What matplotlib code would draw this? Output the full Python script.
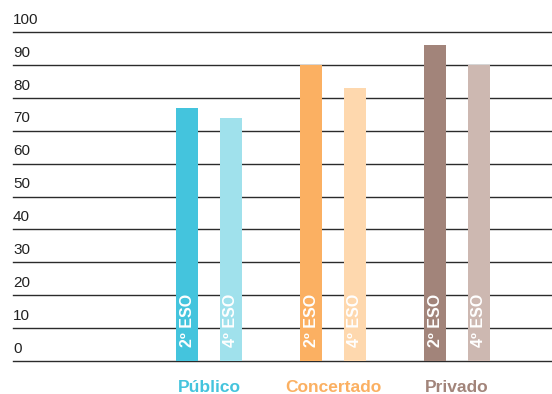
import matplotlib.pyplot as plt
import numpy as np

plt.rcParams['font.family'] = ['Liberation Sans', 'DejaVu Sans']

# Data
categories = ['Público', 'Concertado', 'Privado']
eso2 = [77, 90, 96]
eso4 = [74, 83, 90]
bar_labels = ['2º ESO', '4º ESO']
yticks = [0, 10, 20, 30, 40, 50, 60, 70, 80, 90, 100]

colors_2 = ['#44C4DD', '#FBB062', '#A2847A']
colors_4 = ['#A0E1EC', '#FED8AE', '#CDB8B1']

W, H = 552, 394
fig = plt.figure(figsize=(W / 100, H / 100), dpi=100)
ax = fig.add_axes([13 / W, (H - 361) / H, 1 - 13 / W, (361 - 32) / H])
ax.set_xlim(-1.58, 2.766)
ax.set_ylim(0, 100)
ax.axis('off')

# Grid lines with labels sitting above them
for t in yticks:
    ax.axhline(t, color='#2b2b2b', linewidth=1.0, zorder=1, clip_on=False)
    ax.text(0.0, t + 1.6, str(t), transform=ax.get_yaxis_transform(),
            ha='left', va='bottom', fontsize=11, color='#222222', clip_on=False)

x = np.arange(len(categories))
off = 0.177
width = 0.177
ax.bar(x - off, eso2, width, color=colors_2, zorder=2)
ax.bar(x + off, eso4, width, color=colors_4, zorder=2)

for i in range(len(categories)):
    for xx, lab in ((x[i] - off, bar_labels[0]), (x[i] + off, bar_labels[1])):
        ax.text(xx, 4.3, lab, rotation=90, ha='center', va='bottom',
                fontsize=11.5, fontweight='bold', color='white', zorder=3)
    ax.text(x[i], -8.1, categories[i], ha='center', va='center',
            fontsize=12.5, fontweight='bold', color=colors_2[i], clip_on=False)

fig.savefig('out.png', dpi=100, facecolor='white')
